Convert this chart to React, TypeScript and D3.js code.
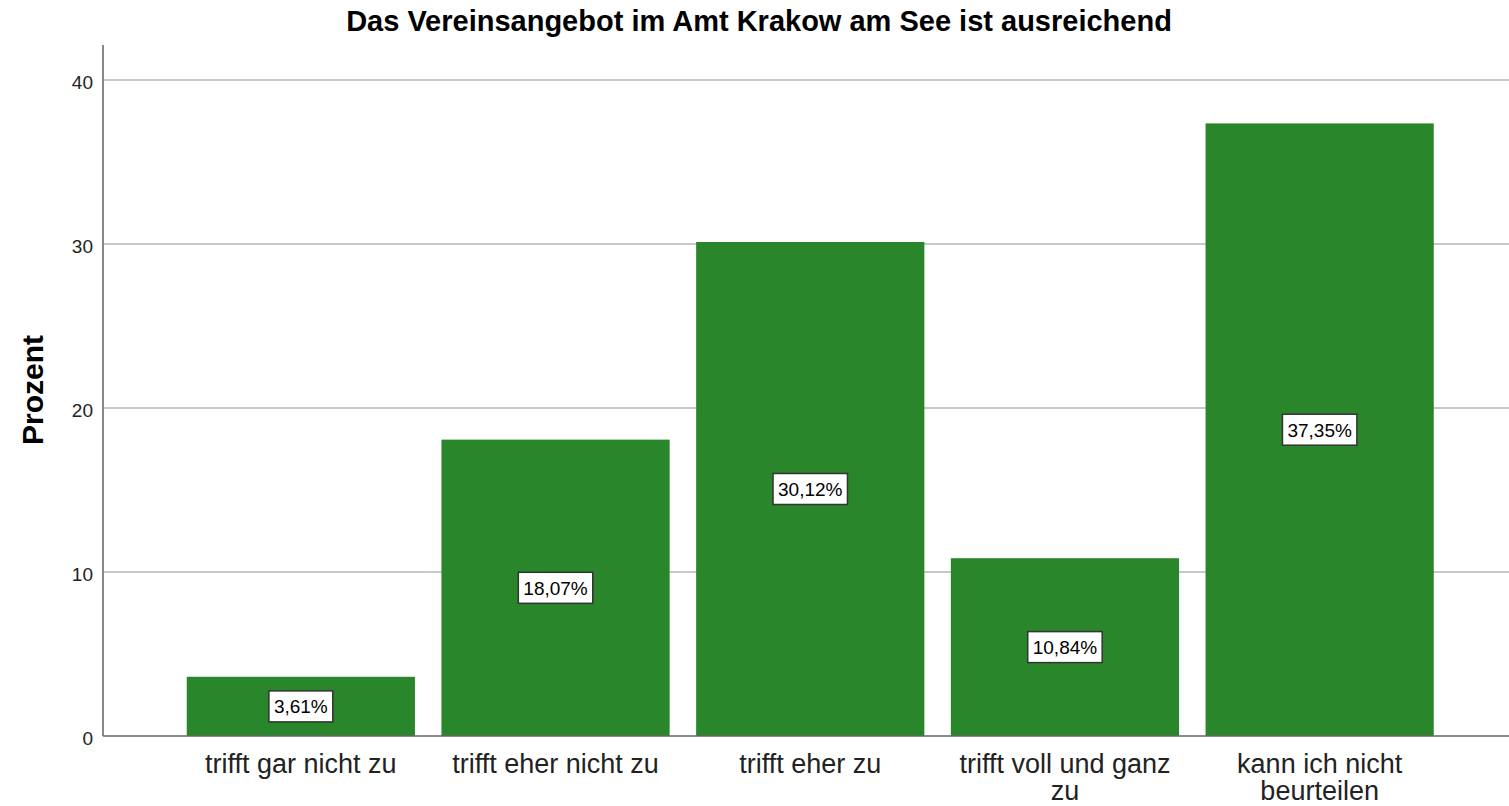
import React from "react";
import * as d3 from "d3";

const categories: string[][] = [
  ["trifft gar nicht zu"],
  ["trifft eher nicht zu"],
  ["trifft eher zu"],
  ["trifft voll und ganz", "zu"],
  ["kann ich nicht", "beurteilen"],
];
const values = [3.61, 18.07, 30.12, 10.84, 37.35];
const yTicks = [0, 10, 20, 30, 40];
const title = "Das Vereinsangebot im Amt Krakow am See ist ausreichend";
const yLabel = "Prozent";

function textWidthEm(s: string) {
  let w = 0;
  for (const c of s) {
    if (c === ",") w += 0.278;
    else if (c === "%") w += 0.889;
    else w += 0.556;
  }
  return w;
}

export default function App() {
  const W = 1509, H = 806;
  const left = 103, right = 1509, top = 45, bottom = 736;
  const y = d3.scaleLinear().domain([0, 42.13]).range([bottom, top]);
  const x = d3
    .scaleBand<number>()
    .domain(values.map((_, i) => i))
    .range([174, 1446.5])
    .paddingInner(0.104)
    .paddingOuter(0.05);
  const font = "Arial, 'Liberation Sans', sans-serif";
  const fmt = (v: number) => v.toFixed(2).replace(".", ",") + "%";
  const lblSize = 19;
  return (
    <svg width={W} height={H} style={{ position: "absolute", left: 0, top: 0 }} fontFamily={font}>
      <rect width={W} height={H} fill="#fff" />
      <text x={759} y={31} textAnchor="middle" fontSize={29} fontWeight="bold" fill="#000">
        {title}
      </text>
      {yTicks.map((t) => (
        <g key={t}>
          {t > 0 && (
            <line x1={left} x2={right} y1={y(t)} y2={y(t)} stroke="#c8c8c8" strokeWidth={2} />
          )}
          <text x={93} y={y(t) + 9} textAnchor="end" fontSize={19} fill="#222">
            {t}
          </text>
        </g>
      ))}
      {values.map((v, i) => (
        <rect
          key={i}
          x={x(i)!}
          y={y(v)}
          width={x.bandwidth()}
          height={bottom - y(v)}
          fill="#2a862a"
        />
      ))}
      <line x1={left} x2={left} y1={top} y2={bottom} stroke="#888" strokeWidth={2} />
      <line x1={left} x2={right} y1={bottom} y2={bottom} stroke="#666" strokeWidth={1.5} />
      {values.map((v, i) => {
        const cx = x(i)! + x.bandwidth() / 2;
        const cy = y(v / 2);
        const label = fmt(v);
        const w = textWidthEm(label) * lblSize + 10, h = 31;
        return (
          <g key={"l" + i}>
            <rect x={cx - w / 2} y={cy - h / 2} width={w} height={h} fill="#fff" stroke="#333" strokeWidth={1.5} />
            <text x={cx} y={cy + 7} textAnchor="middle" fontSize={lblSize} fill="#000">
              {label}
            </text>
          </g>
        );
      })}
      {categories.map((lines, i) => {
        const cx = x(i)! + x.bandwidth() / 2;
        return (
          <text key={"c" + i} x={cx} textAnchor="middle" fontSize={27} fill="#222">
            {lines.map((ln, j) => (
              <tspan key={j} x={cx} y={773 + j * 27}>
                {ln}
              </tspan>
            ))}
          </text>
        );
      })}
      <text
        transform={`translate(43,390) rotate(-90)`}
        textAnchor="middle"
        fontSize={30}
        fontWeight="bold"
        fill="#000"
      >
        {yLabel}
      </text>
    </svg>
  );
}
